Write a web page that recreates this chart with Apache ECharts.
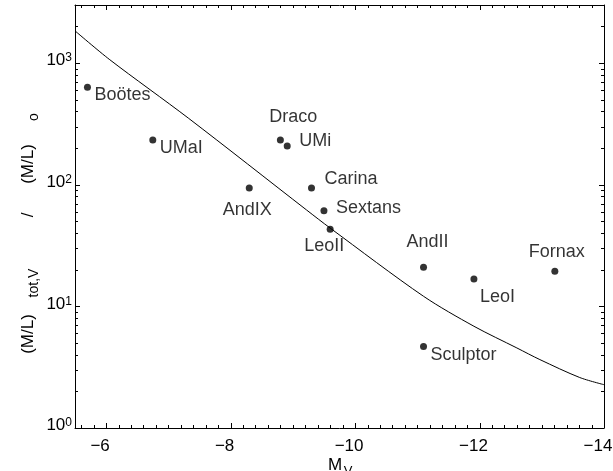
<!DOCTYPE html>
<html>
<head>
<meta charset="utf-8">
<script src="https://cdn.jsdelivr.net/npm/echarts@6/dist/echarts.min.js"></script>
<style>html,body{margin:0;padding:0;background:#fff;overflow:hidden}#c{width:613px;height:471px}</style>
</head>
<body>
<div id="c"></div>
<script>
// ---- data ----
const galaxyNames = ['Boötes','UMaI','Draco','UMi','AndIX','Carina','Sextans','LeoII','AndII','LeoI','Fornax','Sculptor'];
const galaxyMV    = [-5.70, -6.75, -8.80, -8.91, -8.30, -9.30, -9.50, -9.60, -11.10, -11.91, -13.21, -11.10];
const galaxyML    = [631, 233, 233, 208, 94, 94, 61, 43, 21, 16.8, 19.4, 4.67];
const curveMV = [-5.5, -6.06, -7.32, -9.22, -9.6, -11.10, -11.91, -12.6, -12.97, -13.61, -14];
const curveML = [1840, 1064, 353, 62, 44, 12.1, 6.86, 4.55, 3.65, 2.6, 2.27];
const xTickValues = [-14, -12, -10, -8, -6];
const yTickValues = [1, 10, 100, 1000];

// ---- label placement (style only) ----
const labelPlace = {
  'Boötes':  [7, 8, 'left'],
  'UMaI':    [7, 8, 'left'],
  'Draco':   [13, -23, 'center'],
  'UMi':     [12, -5, 'left'],
  'AndIX':   [-2, 22, 'center'],
  'Carina':  [13, -9, 'left'],
  'Sextans': [12, -3, 'left'],
  'LeoII':   [-6, 17, 'center'],
  'AndII':   [4, -25, 'center'],
  'LeoI':    [6, 18, 'left'],
  'Fornax':  [2, -19, 'center'],
  'Sculptor':[7, 8, 'left']
};

const FONT = 'Liberation Sans, Arial, Helvetica, sans-serif';
const XMIN = -14, XMAX = -5.5, YMIN = 1, YMAX = 3000;

const scatterData = galaxyNames.map((n, i) => {
  const p = labelPlace[n];
  return {
    name: n,
    value: [galaxyMV[i], galaxyML[i]],
    label: { show: true, formatter: n, position: 'inside', offset: [p[0], p[1]], align: p[2], verticalAlign: 'middle' }
  };
});

// axis titles (rotated y title built from pieces)
function txt(text, x, y, size, rot) {
  return { type: 'text', x: x, y: y, rotation: rot || 0, silent: true,
    style: { text: text, fontSize: size, fontFamily: FONT, fill: '#000', align: 'center', verticalAlign: 'middle' } };
}
const ROT = Math.PI / 2;
const titleGraphics = [
  txt('M', 335, 465, 17), txt('V', 348, 471, 13),
  txt('(M/L)', 28, 334, 17, ROT), txt('tot,V', 34, 283, 14, ROT),
  txt('/', 28, 215, 17, ROT),
  txt('(M/L)', 28, 164, 17, ROT), txt('o', 34, 117, 14, ROT)
];

const chart = echarts.init(document.getElementById('c'), null, { renderer: 'canvas' });
chart.setOption({
  animation: false,
  backgroundColor: '#fff',
  textStyle: { fontFamily: FONT },
  grid: { left: 75, right: 9, top: 5, bottom: 43, containLabel: false, outerBoundsMode: 'none' },
  xAxis: [{
    type: 'value', min: XMIN, max: XMAX, interval: 2, inverse: true, position: 'bottom',
    axisLine: { show: true, onZero: false, lineStyle: { color: '#000', width: 1 } },
    axisTick: { show: false }, splitLine: { show: false },
    axisLabel: {
      color: '#000', fontSize: 17, fontFamily: FONT, margin: 10, padding: [0, 12, 0, 0],
      formatter: v => (xTickValues.indexOf(v) >= 0 ? String(v).replace('-', '\u2212') : '')
    }
  }, {
    type: 'value', min: XMIN, max: XMAX, inverse: true, position: 'top',
    axisLine: { show: true, onZero: false, lineStyle: { color: '#000', width: 1 } },
    axisTick: { show: false }, axisLabel: { show: false }, splitLine: { show: false }
  }],
  yAxis: [{
    type: 'log', logBase: 10, min: YMIN, max: YMAX, position: 'left',
    axisLine: { show: true, onZero: false, lineStyle: { color: '#000', width: 1 } },
    axisTick: { show: false }, splitLine: { show: false }, minorTick: { show: false },
    axisLabel: {
      margin: 3, color: '#000',
      formatter: v => {
        const l = Math.log10(v), e = Math.round(l);
        if (Math.abs(l - e) > 1e-6 || yTickValues.indexOf(Math.pow(10, e)) < 0) return '';
        return '{b|10}{s|' + e + '}';
      },
      rich: {
        b: { fontSize: 17, lineHeight: 22, fontFamily: FONT, color: '#000', verticalAlign: 'top' },
        s: { fontSize: 12, lineHeight: 9, fontFamily: FONT, color: '#000', verticalAlign: 'top' }
      }
    }
  }, {
    type: 'log', logBase: 10, min: YMIN, max: YMAX, position: 'right',
    axisLine: { show: true, onZero: false, lineStyle: { color: '#000', width: 1 } },
    axisTick: { show: false }, axisLabel: { show: false }, splitLine: { show: false }
  }],
  graphic: titleGraphics,
  series: [{
    type: 'line', xAxisIndex: 0, yAxisIndex: 0,
    data: curveMV.map((x, i) => [x, curveML[i]]),
    showSymbol: false, smooth: 0.3,
    lineStyle: { color: '#000', width: 1 }, silent: true, z: 2
  }, {
    type: 'scatter', xAxisIndex: 0, yAxisIndex: 0,
    data: scatterData, symbol: 'circle', symbolSize: 7,
    itemStyle: { color: '#000' },
    label: { color: '#000', fontSize: 18, fontFamily: FONT },
    z: 3
  }]
});

// ---- inward tick marks on all four sides, placed through the axes' own scales ----
(function () {
  const toPx = (x, y) => chart.convertToPixel({ gridIndex: 0 }, [x, y]);
  const gL = toPx(XMAX, YMIN)[0], gR = toPx(XMIN, YMIN)[0];
  const gB = toPx(XMAX, YMIN)[1], gT = toPx(XMAX, YMAX)[1];
  const tickGraphics = [];
  function seg(x1, y1, x2, y2) {
    tickGraphics.push({ type: 'line', silent: true, z: 10,
      shape: { x1: x1, y1: y1, x2: x2, y2: y2 }, style: { stroke: '#000', lineWidth: 1 } });
  }
  function xTick(v, len) {
    const x = Math.round(toPx(v, YMIN)[0]) + 0.5;
    seg(x, gB, x, gB - len); seg(x, gT, x, gT + len);
  }
  function yTick(v, len) {
    const y = Math.round(toPx(XMAX, v)[1]) + 0.5;
    seg(gL, y, gL + len, y); seg(gR, y, gR - len, y);
  }
  const MAJ = 5, MIN = 3;
  xTickValues.forEach(v => xTick(v, MAJ));
  for (let k = Math.round(XMIN * 5); k / 5 < XMAX; k++) {
    const v = k / 5;
    if (xTickValues.indexOf(v) < 0) xTick(v, MIN);
  }
  yTickValues.forEach(d => {
    yTick(d, MAJ);
    for (let m = 2; m <= 9; m++) if (m * d < YMAX) yTick(m * d, MIN);
  });
  chart.setOption({ graphic: titleGraphics.concat(tickGraphics) });
})();
</script>
</body>
</html>
